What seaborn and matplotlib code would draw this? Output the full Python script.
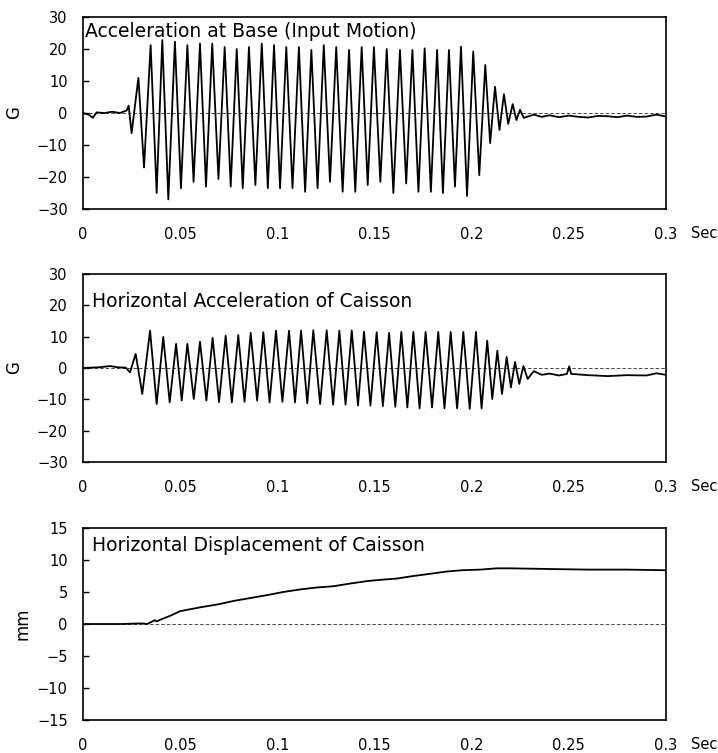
import pandas as pd
import matplotlib
matplotlib.use("Agg")
import matplotlib.pyplot as plt
import seaborn as sns

sns.set_style("white")
plt.rcParams['font.family'] = ['DejaVu Sans']
plt.rcParams['text.color'] = 'black'
plt.rcParams['axes.labelcolor'] = 'black'
plt.rcParams['xtick.color'] = 'black'
plt.rcParams['ytick.color'] = 'black'

# =============================================================================
# 01 Values (time in sec)
# =============================================================================

# A. Acceleration at base (G)
base_pre_t = [0.0, 0.003, 0.005, 0.007, 0.011, 0.015, 0.019, 0.0225, 0.0235, 0.025, 0.0285, 0.0314]
base_pre_g = [0.0, -0.5, -1.5, 0.2, 0.0, 0.4, 0.0, 0.8, 2.3, -6.3, 11.0, -17.0]
base_peak_t = [0.0348, 0.0408, 0.0473, 0.0537, 0.0602, 0.0665, 0.0729, 0.0791, 0.0854, 0.0920,
               0.0983, 0.1046, 0.1111, 0.1175, 0.1239, 0.1303, 0.1369, 0.1434, 0.1497, 0.1563,
               0.1631, 0.1695, 0.1758, 0.1822, 0.1883, 0.1945, 0.2008, 0.2070, 0.2120, 0.2166,
               0.2211, 0.2249]
base_peak_g = [21.2, 22.8, 22.3, 21.2, 21.7, 21.7, 20.6, 20.0, 20.6, 21.7,
               21.2, 20.6, 20.6, 19.7, 21.2, 20.6, 19.7, 20.6, 20.6, 20.0,
               19.7, 19.7, 20.2, 19.7, 19.7, 20.7, 19.2, 15.0, 8.2, 5.9,
               2.8, 1.0]
base_trough_t = [0.0379, 0.0439, 0.0504, 0.0569, 0.0633, 0.0697, 0.0760, 0.0822, 0.0887, 0.0951,
                 0.1014, 0.1078, 0.1143, 0.1207, 0.1271, 0.1336, 0.1401, 0.1465, 0.1530, 0.1597,
                 0.1663, 0.1726, 0.1790, 0.1852, 0.1914, 0.1976, 0.2039, 0.2095, 0.2143, 0.2188,
                 0.2230, 0.2268]
base_trough_g = [-25.0, -27.0, -23.5, -21.5, -23.0, -20.6, -23.0, -23.5, -22.5, -23.5,
                 -23.5, -23.5, -24.6, -23.5, -21.5, -24.6, -24.6, -22.5, -21.5, -25.0,
                 -22.0, -24.6, -24.6, -25.0, -23.0, -25.9, -19.4, -9.4, -5.3, -3.4,
                 -2.2, -1.5]
base_post_t = [0.232, 0.236, 0.24, 0.245, 0.25, 0.255, 0.26, 0.265, 0.27, 0.275, 0.28, 0.285, 0.29, 0.295, 0.3]
base_post_g = [-0.5, -1.2, -0.7, -1.3, -0.8, -1.2, -1.4, -0.9, -1.0, -1.3, -0.8, -1.2, -1.1, -0.5, -1.1]

# B. Horizontal acceleration of caisson (G)
cais_pre_t = [0.0, 0.008, 0.014, 0.018, 0.022, 0.0242]
cais_pre_g = [0.0, 0.2, 0.6, 0.2, 0.1, -1.4]
cais_peak_t = [0.0271, 0.0345, 0.0413, 0.0479, 0.0537, 0.0602, 0.0667, 0.0734, 0.0799, 0.0863,
               0.0928, 0.0993, 0.1060, 0.1122, 0.1185, 0.1254, 0.1319, 0.1383, 0.1446, 0.1511,
               0.1575, 0.1638, 0.1700, 0.1763, 0.1828, 0.1892, 0.1957, 0.2022, 0.2080, 0.2132,
               0.2180, 0.2223, 0.2266]
cais_peak_g = [4.5, 11.9, 9.9, 7.7, 7.7, 8.4, 9.6, 10.3, 10.5, 11.2,
               11.4, 11.9, 11.9, 11.9, 12.0, 12.0, 11.9, 12.0, 11.6, 11.4,
               11.2, 11.5, 11.5, 11.5, 11.5, 11.5, 11.5, 11.5, 8.7, 5.5,
               3.5, 1.9, 0.6]
cais_trough_t = [0.0305, 0.0379, 0.0446, 0.0508, 0.0570, 0.0635, 0.0700, 0.0766, 0.0831, 0.0896,
                 0.0960, 0.1026, 0.1091, 0.1154, 0.1220, 0.1287, 0.1351, 0.1415, 0.1479, 0.1543,
                 0.1607, 0.1669, 0.1732, 0.1796, 0.1860, 0.1925, 0.1990, 0.2051, 0.2106, 0.2156,
                 0.2202, 0.2245, 0.2288]
cais_trough_g = [-8.3, -11.5, -11.0, -10.4, -9.9, -10.4, -10.9, -11.0, -10.8, -10.4,
                 -11.0, -10.8, -11.0, -11.3, -11.5, -11.7, -11.7, -12.0, -12.0, -12.2,
                 -12.4, -12.6, -12.9, -12.6, -12.9, -12.9, -13.1, -12.9, -9.9, -8.3,
                 -6.2, -5.1, -3.5]
cais_post_t = [0.232, 0.236, 0.24, 0.245, 0.249, 0.2502, 0.2512, 0.26, 0.27, 0.28, 0.29, 0.295, 0.3]
cais_post_g = [-1.0, -2.2, -1.8, -2.4, -1.9, 0.5, -1.9, -2.3, -2.6, -2.3, -2.4, -1.7, -2.2]

# C. Horizontal displacement of caisson (mm)
disp_t = [0.0, 0.02, 0.03, 0.033, 0.035, 0.037, 0.0379, 0.04, 0.045, 0.0499, 0.055, 0.0602,
          0.07, 0.0774, 0.085, 0.0945, 0.103, 0.1117, 0.12, 0.1288, 0.137, 0.146, 0.1528,
          0.1614, 0.17, 0.18, 0.1871, 0.195, 0.2043, 0.2129, 0.22, 0.2386, 0.26, 0.28, 0.3]
disp_mm = [0.0, 0.0, 0.1, 0.0, 0.3, 0.6, 0.4, 0.7, 1.3, 2.0, 2.3, 2.6,
           3.1, 3.6, 4.0, 4.5, 5.0, 5.4, 5.7, 5.9, 6.3, 6.7, 6.9,
           7.1, 7.5, 7.9, 8.2, 8.4, 8.5, 8.7, 8.7, 8.6, 8.5, 8.5, 8.4]

xticks = [0, 0.05, 0.1, 0.15, 0.2, 0.25, 0.3]
xticklabels = ['0', '0.05', '0.1', '0.15', '0.2', '0.25', '0.3']


def build(*pairs):
    frames = [pd.DataFrame({'t': t, 'v': v}) for t, v in pairs]
    return pd.concat(frames).sort_values('t').reset_index(drop=True)


base = build((base_pre_t, base_pre_g), (base_peak_t, base_peak_g),
             (base_trough_t, base_trough_g), (base_post_t, base_post_g))
cais = build((cais_pre_t, cais_pre_g), (cais_peak_t, cais_peak_g),
             (cais_trough_t, cais_trough_g), (cais_post_t, cais_post_g))
disp = build((disp_t, disp_mm))

# =============================================================================
# 02 Plot
# =============================================================================

fig = plt.figure(figsize=(7.18, 7.53), dpi=100)
axes = [fig.add_axes([0.1156, 0.7224, 0.812, 0.255]),
        fig.add_axes([0.1156, 0.3865, 0.812, 0.2497]),
        fig.add_axes([0.1156, 0.0438, 0.812, 0.255])]

panels = [(base, 'Acceleration at Base (Input Motion)', 'G', 30, 10, (0.004, 0.976), -0.103),
          (cais, 'Horizontal Acceleration of Caisson', 'G', 30, 10, (0.015, 0.905), -0.103),
          (disp, 'Horizontal Displacement of Caisson', 'mm', 15, 5, (0.015, 0.958), -0.089)]

for ax, (df, title, unit, lim, step, tpos, ylx) in zip(axes, panels):
    ax.axhline(0, color='black', lw=0.5, ls=(0, (5, 3)), zorder=1)
    sns.lineplot(data=df, x='t', y='v', ax=ax, color='black', lw=1.3,
                 estimator=None, zorder=2)
    ax.set_xlim(0, 0.3)
    ax.set_ylim(-lim, lim)
    ax.set_yticks(range(-lim, lim + 1, step))
    ax.set_xticks(xticks)
    ax.set_xticklabels(xticklabels)
    ax.tick_params(axis='x', length=0, pad=13, labelsize=10.5)
    ax.tick_params(axis='y', direction='in', length=4, width=1, pad=11, labelsize=10.5, left=True)
    ax.set_xlabel('')
    ax.set_ylabel(unit, fontsize=12)
    ax.yaxis.set_label_coords(ylx, 0.5)
    for s in ax.spines.values():
        s.set_color('black')
        s.set_linewidth(1.2)
    ax.text(tpos[0], tpos[1], title, transform=ax.transAxes, ha='left', va='top', fontsize=13.5)
    ax.text(1.065, -0.128, 'Sec', transform=ax.transAxes, ha='center', va='center', fontsize=10.5)

fig.savefig('out.png', dpi=100)
